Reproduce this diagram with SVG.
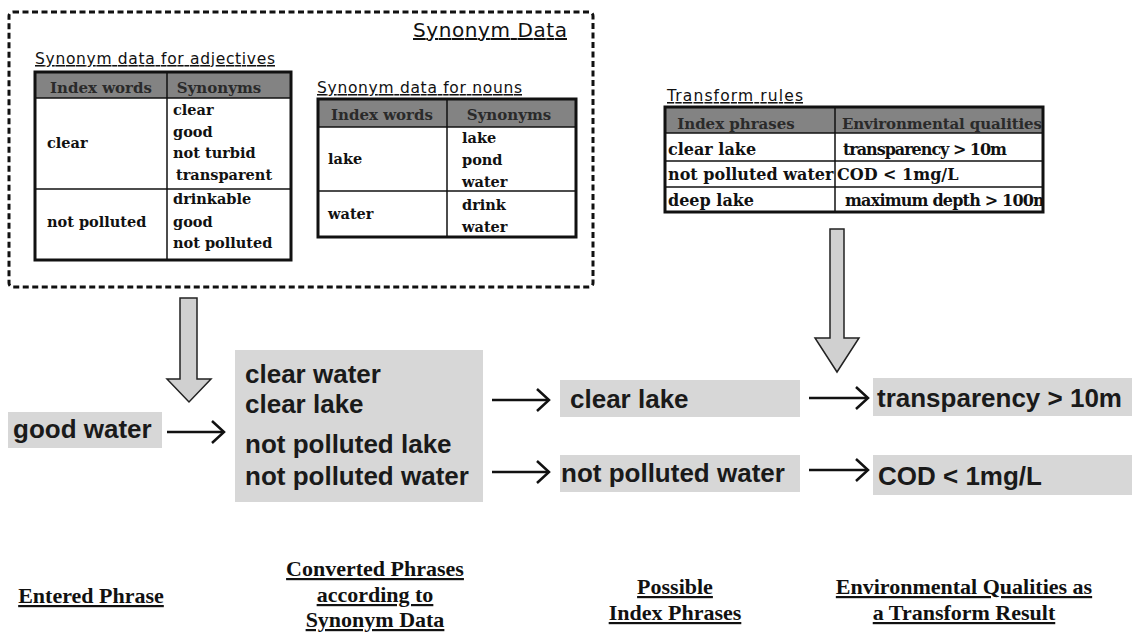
<svg xmlns="http://www.w3.org/2000/svg" width="1142" height="632" viewBox="0 0 1142 632">
<style>
.title{font-family:"DejaVu Sans","Liberation Sans",sans-serif;fill:#111;text-decoration:underline}
.cell{font-family:"DejaVu Serif","Liberation Serif",serif;font-weight:bold;font-size:14.5px;fill:#111}
.tcell{font-family:"DejaVu Serif","Liberation Serif",serif;font-weight:bold;font-size:16px;fill:#111}
.head{font-family:"DejaVu Serif","Liberation Serif",serif;font-weight:bold;font-size:15px;fill:#2a2a2a}
.hdr{fill:#838383}
.outer{fill:none;stroke:#111;stroke-width:3}
.inner{stroke:#111;stroke-width:1.5}
.box{fill:#d7d7d7}
.flow{font-family:"Liberation Sans","Arial",sans-serif;font-weight:bold;font-size:26px;fill:#1a1a1a}
.lbl{font-family:"Liberation Serif","Times New Roman",serif;font-weight:bold;font-size:22px;fill:#111;text-anchor:middle;text-decoration:underline}
.conn{stroke:#111;stroke-width:2.5;fill:none}
.big{fill:#d0d0d0;stroke:#222;stroke-width:1.5}
</style>
<defs>
<marker id="chev" markerUnits="userSpaceOnUse" markerWidth="18" markerHeight="26" refX="15" refY="13" orient="auto">
<path d="M3,2 L15,13 L3,24" fill="none" stroke="#111" stroke-width="2.5"/>
</marker>
<clipPath id="tclip"><rect x="835" y="107" width="207" height="106"/></clipPath>
</defs>
<rect width="1142" height="632" fill="#fff"/>

<g id="synonym-data">
<rect x="9" y="12" width="584" height="275" rx="4" fill="none" stroke="#111" stroke-width="3" stroke-dasharray="6 3.5"/>
<text class="title" x="413" y="37" font-size="20" textLength="154">Synonym Data</text>
</g>

<g id="adjective-table">
<text class="title" x="35" y="64" font-size="15.5" textLength="240">Synonym data for adjectives</text>
<rect class="hdr" x="35" y="72" width="256" height="26"/>
<line class="inner" x1="35" y1="98" x2="291" y2="98"/>
<line class="inner" x1="167" y1="72" x2="167" y2="260"/>
<line class="inner" x1="35" y1="189" x2="291" y2="189"/>
<rect class="outer" x="35" y="72" width="256" height="188"/>
<text class="head" x="101" y="93" text-anchor="middle">Index words</text>
<text class="head" x="219" y="93" text-anchor="middle">Synonyms</text>
<text class="cell" x="47" y="148">clear</text>
<text class="cell" x="173" y="115">clear</text>
<text class="cell" x="173" y="137">good</text>
<text class="cell" x="173" y="158">not turbid</text>
<text class="cell" x="176" y="180">transparent</text>
<text class="cell" x="47" y="227">not polluted</text>
<text class="cell" x="173" y="204">drinkable</text>
<text class="cell" x="173" y="227">good</text>
<text class="cell" x="173" y="248">not polluted</text>
</g>

<g id="noun-table">
<text class="title" x="317" y="93" font-size="15.5" textLength="205">Synonym data for nouns</text>
<rect class="hdr" x="318" y="99" width="258" height="28"/>
<line class="inner" x1="318" y1="127" x2="576" y2="127"/>
<line class="inner" x1="447" y1="99" x2="447" y2="237"/>
<line class="inner" x1="318" y1="191" x2="576" y2="191"/>
<rect class="outer" x="318" y="99" width="258" height="138"/>
<text class="head" x="382" y="120" text-anchor="middle">Index words</text>
<text class="head" x="509" y="120" text-anchor="middle">Synonyms</text>
<text class="cell" x="328" y="164">lake</text>
<text class="cell" x="462" y="143">lake</text>
<text class="cell" x="462" y="165">pond</text>
<text class="cell" x="462" y="187">water</text>
<text class="cell" x="328" y="219">water</text>
<text class="cell" x="462" y="210">drink</text>
<text class="cell" x="462" y="232">water</text>
</g>

<g id="transform-table">
<text class="title" x="667" y="101" font-size="15.5" textLength="136">Transform rules</text>
<rect class="hdr" x="665" y="107" width="378" height="26"/>
<line class="inner" x1="665" y1="133" x2="1043" y2="133"/>
<line class="inner" x1="835" y1="107" x2="835" y2="212"/>
<line class="inner" x1="665" y1="161" x2="1043" y2="161"/>
<line class="inner" x1="665" y1="187" x2="1043" y2="187"/>
<text class="head" x="736" y="129" text-anchor="middle">Index phrases</text>
<text class="head" x="842" y="129" textLength="200" clip-path="url(#tclip)">Environmental qualities</text>
<text class="tcell" x="668" y="155">clear lake</text>
<text class="tcell" x="668" y="180">not polluted water</text>
<text class="tcell" x="668" y="206">deep lake</text>
<text class="tcell" x="843" y="155" textLength="164">transparency &gt; 10m</text>
<text class="tcell" x="837" y="180">COD &lt; 1mg/L</text>
<text class="tcell" x="845" y="206" textLength="205" clip-path="url(#tclip)">maximum depth &gt; 100m</text>
<rect class="outer" x="665" y="107" width="378" height="105"/>
</g>

<g id="good-water">
<rect class="box" x="8" y="412" width="154" height="36"/>
<text class="flow" x="13" y="438">good water</text>
</g>

<g id="converted-phrases">
<rect class="box" x="235" y="350" width="248" height="152"/>
<text class="flow" x="245" y="383">clear water</text>
<text class="flow" x="245" y="413">clear lake</text>
<text class="flow" x="245" y="453">not polluted lake</text>
<text class="flow" x="245" y="485">not polluted water</text>
</g>

<g id="index-clear-lake">
<rect class="box" x="560" y="380" width="240" height="37"/>
<text class="flow" x="570" y="408">clear lake</text>
</g>

<g id="index-not-polluted-water">
<rect class="box" x="560" y="455" width="240" height="37"/>
<text class="flow" x="561" y="482">not polluted water</text>
</g>

<g id="env-transparency">
<rect class="box" x="873" y="378" width="259" height="38"/>
<text class="flow" x="877" y="407">transparency &gt; 10m</text>
</g>

<g id="env-cod">
<rect class="box" x="873" y="455" width="259" height="40"/>
<text class="flow" x="878" y="485">COD &lt; 1mg/L</text>
</g>

<g id="connectors">
<polygon class="big" points="180,298 197,298 197,379 211,379 189,402 167,379 180,379"/>
<polygon class="big" points="830,229 844,229 844,338 859,338 837,372 815,338 830,338"/>
<line class="conn" x1="167" y1="432" x2="224" y2="432" marker-end="url(#chev)"/>
<line class="conn" x1="492" y1="400" x2="549" y2="400" marker-end="url(#chev)"/>
<line class="conn" x1="492" y1="472" x2="549" y2="472" marker-end="url(#chev)"/>
<line class="conn" x1="809" y1="398" x2="868" y2="398" marker-end="url(#chev)"/>
<line class="conn" x1="809" y1="470" x2="868" y2="470" marker-end="url(#chev)"/>
</g>

<g id="labels">
<text class="lbl" x="91" y="603">Entered Phrase</text>
<text class="lbl" x="375" y="576">Converted Phrases</text>
<text class="lbl" x="375" y="602">according to</text>
<text class="lbl" x="375" y="627">Synonym Data</text>
<text class="lbl" x="675" y="594">Possible</text>
<text class="lbl" x="675" y="620">Index Phrases</text>
<text class="lbl" x="964" y="594">Environmental Qualities as</text>
<text class="lbl" x="964" y="620">a Transform Result</text>
</g>
</svg>
